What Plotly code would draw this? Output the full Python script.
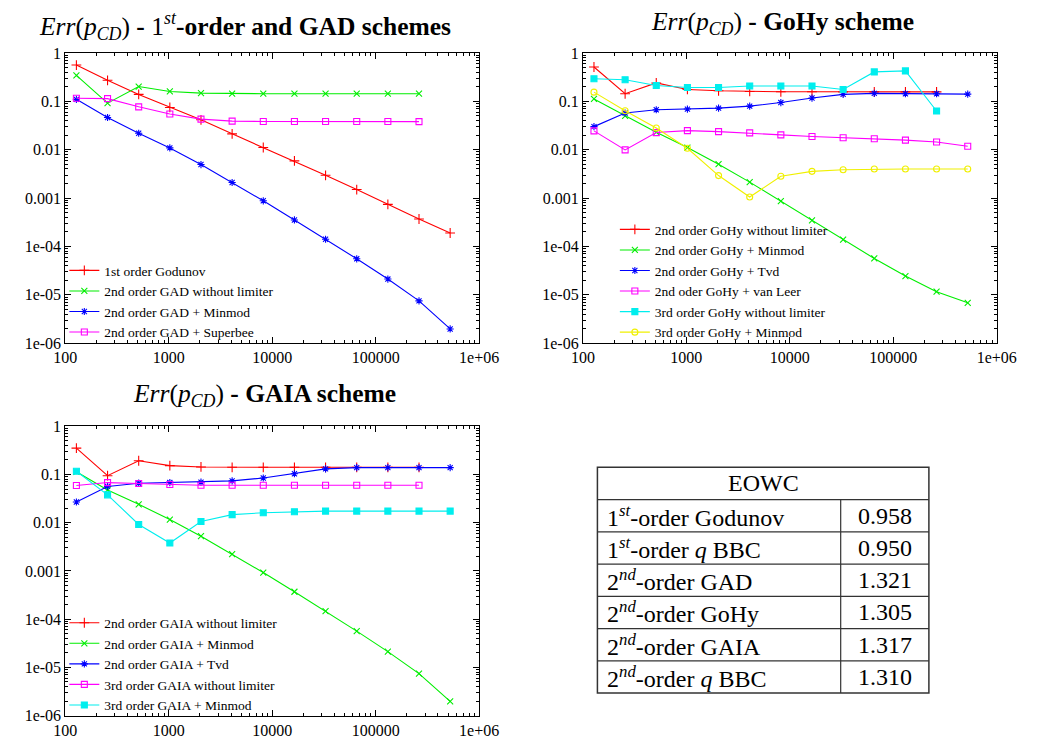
import plotly.graph_objects as go

W, H = 1040, 749

# ---------------- data ----------------
N = [128, 256, 512, 1024, 2048, 4096, 8192, 16384, 32768, 65536, 131072, 262144, 524288]

# Plot 1: 1st-order and GAD schemes
gad_names = ["1st order Godunov", "2nd order GAD without limiter",
             "2nd order GAD + Minmod", "2nd order GAD + Superbee"]
gad_godunov = [0.563, 0.272, 0.139, 0.0748, 0.0415, 0.0213, 0.0111, 0.00587,
               0.00296, 0.0015, 7.4e-4, 3.7e-4, 1.9e-4]
gad_nolim = [0.343, 0.0916, 0.202, 0.160, 0.148, 0.144, 0.144, 0.144,
             0.144, 0.144, 0.144, 0.144]
gad_minmod = [0.110, 0.0463, 0.0219, 0.0109, 0.00494, 0.0021, 8.8e-4, 3.53e-4,
              1.41e-4, 5.56e-5, 2.12e-5, 7.5e-6, 1.97e-6]
gad_superbee = [0.1155, 0.1137, 0.077, 0.0548, 0.0428, 0.039, 0.0384, 0.0384,
                0.0384, 0.0384, 0.0384, 0.0380]

# Plot 2: GoHy scheme
gohy_names = ["2nd order GoHy without limiter", "2nd order GoHy + Minmod",
              "2nd order GoHy + Tvd", "2nd oder GoHy + van Leer",
              "3rd order GoHy without limiter", "3rd order GoHy + Minmod"]
gohy_nolim = [0.513, 0.1436, 0.24, 0.176, 0.165, 0.160, 0.158, 0.158,
              0.157, 0.157, 0.157, 0.157]
gohy_minmod = [0.112, 0.050, 0.023, 0.0111, 0.00502, 0.00214, 8.7e-4, 3.47e-4,
               1.39e-4, 5.65e-5, 2.44e-5, 1.16e-5, 6.84e-6]
gohy_tvd = [0.030, 0.0574, 0.067, 0.0692, 0.0725, 0.0796, 0.0944, 0.117,
            0.139, 0.146, 0.1436, 0.1436, 0.141]
gohy_vanleer = [0.0245, 0.0099, 0.0226, 0.0248, 0.0237, 0.0223, 0.0203, 0.0188,
                0.0177, 0.0169, 0.0158, 0.0144, 0.0118]
gohy3_nolim = [0.293, 0.280, 0.212, 0.193, 0.193, 0.208, 0.208, 0.208,
               0.176, 0.406, 0.426, 0.063]
gohy3_minmod = [0.155, 0.064, 0.0281, 0.0107, 0.00292, 0.00105, 0.00283, 0.00357,
                0.00385, 0.00398, 0.0040, 0.0040, 0.0040]

# Plot 3: GAIA scheme
gaia_names = ["2nd order GAIA without limiter", "2nd order GAIA + Minmod",
              "2nd order GAIA + Tvd", "3rd order GAIA without limiter",
              "3rd order GAIA + Minmod"]
gaia_nolim = [0.353, 0.0944, 0.193, 0.153, 0.1436, 0.141, 0.141, 0.141,
              0.141, 0.141, 0.141, 0.141]
gaia_minmod = [0.1137, 0.0477, 0.0241, 0.0116, 0.00526, 0.00224, 9.24e-4, 3.7e-4,
               1.46e-4, 5.65e-5, 2.12e-5, 7.4e-6, 1.97e-6]
gaia_tvd = [0.0269, 0.0566, 0.066, 0.0681, 0.0692, 0.0736, 0.0847, 0.1037,
            0.131, 0.139, 0.139, 0.139, 0.139]
gaia3_nolim = [0.0593, 0.068, 0.065, 0.062, 0.060, 0.060, 0.060, 0.060,
               0.060, 0.060, 0.060, 0.060]
gaia3_minmod = [0.117, 0.0378, 0.0092, 0.0038, 0.0106, 0.0147, 0.0161, 0.0169,
                0.0174, 0.0174, 0.0174, 0.0174, 0.0174]

# tick labels
x_tickvals = [100, 1000, 10000, 100000, 1000000]
x_ticktext = ["100", "1000", "10000", "100000", "1e+06"]
y_tickvals = [1, 0.1, 0.01, 0.001, 1e-4, 1e-5, 1e-6]
y_ticktext = ["1", "0.1", "0.01", "0.001", "1e-04", "1e-05", "1e-06"]

# table
table_header = "EOWC"
table_labels = ["1<sup><i>st</i></sup>-order Godunov", "1<sup><i>st</i></sup>-order <i>q</i> BBC",
                "2<sup><i>nd</i></sup>-order GAD", "2<sup><i>nd</i></sup>-order GoHy",
                "2<sup><i>nd</i></sup>-order GAIA", "2<sup><i>nd</i></sup>-order <i>q</i> BBC"]
table_values = ["0.958", "0.950", "1.321", "1.305", "1.317", "1.310"]

titles = [
    "<i>Err</i>(<i>p</i><sub><i>CD</i></sub>) <b>-</b> 1<sup><i>st</i></sup><b>-order and GAD schemes</b>",
    "<i>Err</i>(<i>p</i><sub><i>CD</i></sub>) <b>- GoHy scheme</b>",
    "<i>Err</i>(<i>p</i><sub><i>CD</i></sub>) <b>- GAIA scheme</b>",
]

# ---------------- styling ----------------
RED, GREEN, BLUE, MAG, CYAN, YEL = "#ff0000", "#00ee00", "#0000ff", "#ff00ff", "#00eeee", "#f0f000"
FONT = "Liberation Serif, Times New Roman, serif"

fig = go.Figure()


def add(x, y, name, color, symbol, size, ax, leg):
    fig.add_trace(go.Scatter(
        x=x[:len(y)], y=y, name=name, mode="lines+markers",
        line=dict(color=color, width=1.1),
        marker=dict(symbol=symbol, size=size, color=color, line=dict(color=color, width=1.1)),
        xaxis="x" + ax, yaxis="y" + ax, legend=leg))


add(N, gad_godunov, gad_names[0], RED, "cross-thin", 7, "", "legend")
add(N, gad_nolim, gad_names[1], GREEN, "x-thin", 6, "", "legend")
add(N, gad_minmod, gad_names[2], BLUE, "asterisk", 6, "", "legend")
add(N, gad_superbee, gad_names[3], MAG, "square-open", 6, "", "legend")

add(N, gohy_nolim, gohy_names[0], RED, "cross-thin", 7, "2", "legend2")
add(N, gohy_minmod, gohy_names[1], GREEN, "x-thin", 6, "2", "legend2")
add(N, gohy_tvd, gohy_names[2], BLUE, "asterisk", 6, "2", "legend2")
add(N, gohy_vanleer, gohy_names[3], MAG, "square-open", 6, "2", "legend2")
add(N, gohy3_nolim, gohy_names[4], CYAN, "square", 6, "2", "legend2")
add(N, gohy3_minmod, gohy_names[5], YEL, "circle-open", 6, "2", "legend2")

add(N, gaia_nolim, gaia_names[0], RED, "cross-thin", 7, "3", "legend3")
add(N, gaia_minmod, gaia_names[1], GREEN, "x-thin", 6, "3", "legend3")
add(N, gaia_tvd, gaia_names[2], BLUE, "asterisk", 6, "3", "legend3")
add(N, gaia3_nolim, gaia_names[3], MAG, "square-open", 6, "3", "legend3")
add(N, gaia3_minmod, gaia_names[4], CYAN, "square", 6, "3", "legend3")


def px_x(p):
    return p / W


def px_y(p):
    return 1 - p / H


# minor log ticks (2..9 in each decade)
x_minor = [k * 10 ** d for d in range(2, 6) for k in range(2, 10)]
y_minor = [k * 10.0 ** d for d in range(-6, 0) for k in range(2, 10)]


def axis_common(tv, tt, mv):
    return dict(type="log", tickmode="array", tickvals=tv, ticktext=tt,
                ticks="inside", ticklen=6, tickcolor="black", showline=True,
                linecolor="black", linewidth=1, mirror="ticks", showgrid=False,
                zeroline=False, tickfont=dict(family=FONT, size=16, color="black"),
                minor=dict(tickmode="array", tickvals=mv, ticks="inside", ticklen=3,
                           tickcolor="black", showgrid=False))


def xax(domain, anchor):
    d = axis_common(x_tickvals, x_ticktext, x_minor)
    d.update(range=[2, 6], domain=domain, anchor=anchor)
    return d


def yax(domain, anchor):
    d = axis_common(y_tickvals, y_ticktext, y_minor)
    d.update(range=[-6, 0], domain=domain, anchor=anchor)
    return d


dx1 = [px_x(55), px_x(482)]
dx2 = [px_x(589), px_x(1016)]
dy_top = [px_y(343), px_y(46)]
dy_bot = [px_y(724), px_y(428)]

legfont = dict(family=FONT, size=13.5, color="black")
fig.update_layout(
    width=W, height=H, margin=dict(l=0, r=0, t=0, b=0),
    paper_bgcolor="white", plot_bgcolor="white",
    font=dict(family=FONT, color="black"),
    xaxis=xax(dx1, "y"), yaxis=yax(dy_top, "x"),
    xaxis2=xax(dx2, "y2"), yaxis2=yax(dy_top, "x2"),
    xaxis3=xax(dx1, "y3"), yaxis3=yax(dy_bot, "x3"),
    legend=dict(x=px_x(54), y=px_y(348), xanchor="left", yanchor="bottom",
                bgcolor="rgba(0,0,0,0)", font=legfont, tracegroupgap=0),
    legend2=dict(x=px_x(622), y=px_y(348), xanchor="left", yanchor="bottom",
                 bgcolor="rgba(0,0,0,0)", font=legfont, tracegroupgap=0),
    legend3=dict(x=px_x(54), y=px_y(729), xanchor="left", yanchor="bottom",
                 bgcolor="rgba(0,0,0,0)", font=legfont, tracegroupgap=0),
    showlegend=True,
)

# titles
title_pos = [(240, 18), (795, 15), (260, 396)]
for t, (cx, cy) in zip(titles, title_pos):
    fig.add_annotation(text=t, x=px_x(cx), y=px_y(cy), xref="paper", yref="paper",
                       showarrow=False, xanchor="center", yanchor="middle",
                       font=dict(family=FONT, size=25.5, color="black"))

# table
TL, TR, TT, RH, TDIV = 604, 946, 470, 33, 855
nrows = len(table_labels) + 1
TB = TT + RH * nrows
lc = "#333333"
fig.add_shape(type="rect", xref="paper", yref="paper", x0=px_x(TL), x1=px_x(TR),
              y0=px_y(TB), y1=px_y(TT), line=dict(color=lc, width=1.5))
for i in range(1, nrows):
    fig.add_shape(type="line", xref="paper", yref="paper", x0=px_x(TL), x1=px_x(TR),
                  y0=px_y(TT + RH * i), y1=px_y(TT + RH * i), line=dict(color=lc, width=1.2))
fig.add_shape(type="line", xref="paper", yref="paper", x0=px_x(TDIV), x1=px_x(TDIV),
              y0=px_y(TB), y1=px_y(TT + RH), line=dict(color=lc, width=1.2))

tfont = dict(family=FONT, size=24, color="black")
fig.add_annotation(text=table_header, x=px_x((TL + TR) / 2), y=px_y(TT + RH / 2),
                   xref="paper", yref="paper", showarrow=False, xanchor="center",
                   yanchor="middle", font=tfont)
for i, (lab, val) in enumerate(zip(table_labels, table_values)):
    cy = TT + RH * (i + 1) + RH / 2
    fig.add_annotation(text=lab, x=px_x(TL + 8), y=px_y(cy), xref="paper", yref="paper",
                       showarrow=False, xanchor="left", yanchor="middle", font=tfont)
    fig.add_annotation(text=val, x=px_x((TDIV + TR) / 2), y=px_y(cy), xref="paper",
                       yref="paper", showarrow=False, xanchor="center", yanchor="middle",
                       font=tfont)

fig.write_html("out.html")
